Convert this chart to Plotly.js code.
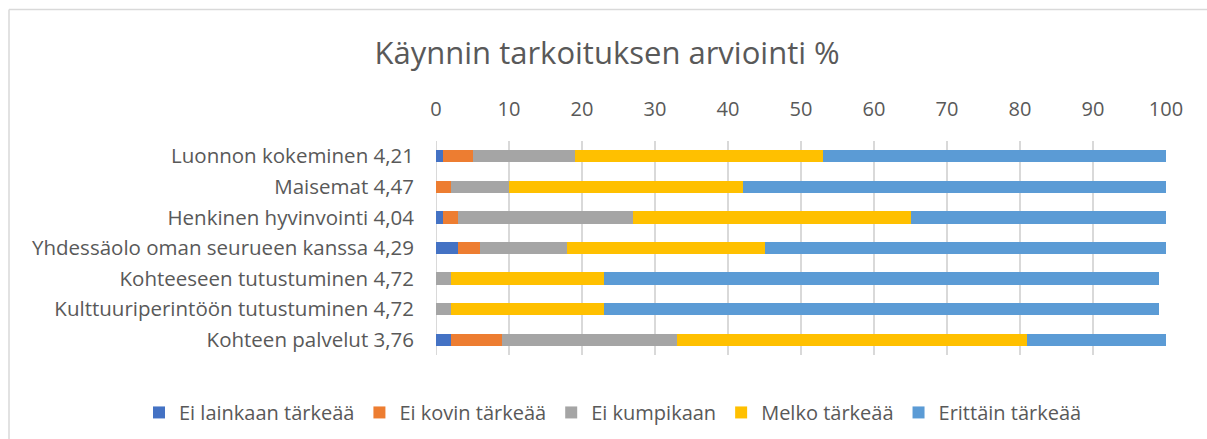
<!DOCTYPE html>
<html><head><meta charset="utf-8">
<script src="https://cdn.plot.ly/plotly-3.0.1.min.js"></script>
<style>html,body{margin:0;padding:0;background:#fff}#chart{width:1207px;height:439px}</style>
</head><body><div id="chart"></div>
<script>
const categories = [
  "Luonnon kokeminen 4,21",
  "Maisemat 4,47",
  "Henkinen hyvinvointi 4,04",
  "Yhdessäolo oman seurueen kanssa 4,29",
  "Kohteeseen tutustuminen 4,72",
  "Kulttuuriperintöön tutustuminen 4,72",
  "Kohteen palvelut 3,76"
];
const seriesNames = ["Ei lainkaan tärkeää","Ei kovin tärkeää","Ei kumpikaan","Melko tärkeää","Erittäin tärkeää"];
const eiLainkaan = [1, 0, 1, 3, 0, 0, 2];
const eiKovin    = [4, 2, 2, 3, 0, 0, 7];
const eiKumpikaan= [14, 8, 24, 12, 2, 2, 24];
const melko      = [34, 32, 38, 27, 21, 21, 48];
const erittain   = [47, 58, 35, 55, 76, 76, 19];
const colors = ["#4472C4","#ED7D31","#A5A5A5","#FFC000","#5B9BD5"];
const values = [eiLainkaan, eiKovin, eiKumpikaan, melko, erittain];

const traces = values.map((v,i)=>({
  type:'bar', orientation:'h', name: seriesNames[i],
  y: categories, x: v,
  marker:{color:colors[i], line:{width:0}},
  hoverinfo:'x+name'
}));

const font = "'Open Sans', sans-serif";
const T = 140.7, B = 84, L = 436, R = 41;
const PH = 439 - T - B, PW = 1207 - L - R;
const py = p => (439 - B - p) / PH;   // pixel y -> paper y
const px = p => (p - L) / PW;          // pixel x -> paper x
const layout = {
  width:1207, height:439,
  barmode:'stack', bargap:0.6,
  margin:{l:L, r:R, t:T, b:B, autoexpand:false},
  paper_bgcolor:'#fff', plot_bgcolor:'#fff',
  title:{text:'Käynnin tarkoituksen arviointi %', font:{family:font, size:31, color:'#595959'}, x:0.503, xanchor:'center', y:1-53/439, yanchor:'middle'},
  xaxis:{side:'top', range:[0,100], dtick:10, tick0:0, showgrid:true, gridcolor:'#D9D9D9', gridwidth:2,
         zeroline:false, showline:false, ticks:'', ticklen:0, ticklabelstandoff:20,
         tickfont:{family:font, size:20, color:'#595959'}, fixedrange:true},
  yaxis:{autorange:'reversed', categoryorder:'array', categoryarray:categories, showline:false, ticks:'', ticklabelstandoff:21,
         tickfont:{family:font, size:20.5, color:'#595959'}, fixedrange:true},
  legend:{orientation:'h', x:px(139), xanchor:'left', y:py(393), yanchor:'top', traceorder:'normal',
          font:{family:font, size:20, color:'#595959'}, itemwidth:30},
  showlegend:true,
  shapes:[
    {type:'line', xref:'paper', yref:'paper', x0:px(9), x1:px(1207), y0:py(9), y1:py(9), line:{color:'#D9D9D9', width:1.5}},
    {type:'line', xref:'paper', yref:'paper', x0:px(9), x1:px(9), y0:py(9), y1:py(439), line:{color:'#D9D9D9', width:1.5}},
    {type:'line', xref:'x', yref:'paper', x0:0, x1:0, y0:0, y1:1, line:{color:'#D9D9D9', width:2}, layer:'below'}
  ]
};
Plotly.newPlot('chart', traces, layout, {displayModeBar:false, staticPlot:true});
</script></body></html>
